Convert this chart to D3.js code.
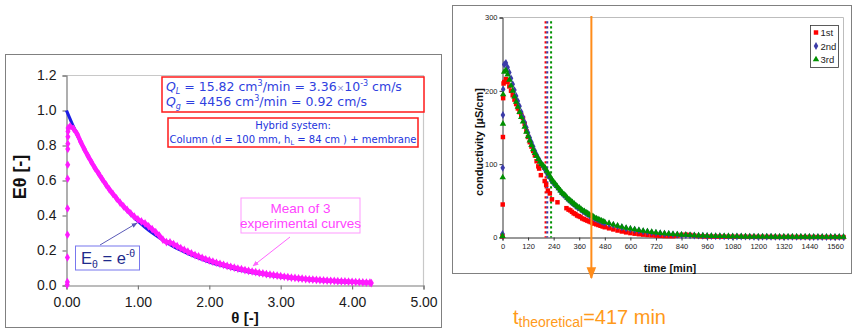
<!DOCTYPE html>
<html>
<head>
<meta charset="utf-8">
<script src="https://cdn.jsdelivr.net/npm/d3@7"></script>
<style>
  html, body { margin: 0; padding: 0; background: #ffffff; }
  svg { display: block; }
</style>
</head>
<body>
<svg id="chart" width="853" height="331"></svg>
<script>
// ---------- Left panel: dimensionless RTD, E(theta) ----------
const thetaTicks = [0, 1, 2, 3, 4, 5];
const eTicks = [0, 0.2, 0.4, 0.6, 0.8, 1.0, 1.2];

// Ideal CSTR response E = exp(-theta), tabulated
const thetaModel = [0, 0.1, 0.2, 0.3, 0.4, 0.5, 0.6, 0.7, 0.8, 0.9, 1.0, 1.1, 1.2, 1.3, 1.4, 1.5, 1.6, 1.7, 1.8, 1.9, 2.0, 2.1, 2.2, 2.3, 2.4, 2.5, 2.6, 2.7, 2.8, 2.9, 3.0, 3.1, 3.2, 3.3, 3.4, 3.5, 3.6, 3.7, 3.8, 3.9, 4.0, 4.1, 4.2];
const eModel = [1.000, 0.905, 0.819, 0.741, 0.670, 0.607, 0.549, 0.497, 0.449, 0.407, 0.368, 0.333, 0.301, 0.273, 0.247, 0.223, 0.202, 0.183, 0.165, 0.150, 0.135, 0.122, 0.111, 0.100, 0.091, 0.082, 0.074, 0.067, 0.061, 0.055, 0.050, 0.045, 0.041, 0.037, 0.033, 0.030, 0.027, 0.025, 0.022, 0.020, 0.018, 0.017, 0.015];

// Mean of three experimental curves: initial rise, then the decay
const thetaRise = [0.010, 0.012, 0.013, 0.014, 0.015, 0.016, 0.017, 0.018, 0.019, 0.020, 0.021, 0.022];
const eRise = [0.005, 0.02, 0.16, 0.29, 0.44, 0.61, 0.69, 0.78, 0.81, 0.85, 0.88, 0.90];
const thetaExp = [0.05, 0.10, 0.15, 0.20, 0.25, 0.30, 0.35, 0.40, 0.45, 0.50, 0.55, 0.60, 0.65, 0.70, 0.75, 0.80, 0.85, 0.90, 0.95, 1.00, 1.05, 1.10, 1.15, 1.20, 1.25, 1.30, 1.35, 1.40, 1.45, 1.50, 1.55, 1.60, 1.65, 1.70, 1.75, 1.80, 1.85, 1.90, 1.95, 2.00, 2.05, 2.10, 2.15, 2.20, 2.25, 2.30, 2.35, 2.40, 2.45, 2.50, 2.55, 2.60, 2.65, 2.70, 2.75, 2.80, 2.85, 2.90, 2.95, 3.00, 3.05, 3.10, 3.15, 3.20, 3.25, 3.30, 3.35, 3.40, 3.45, 3.50, 3.55, 3.60, 3.65, 3.70, 3.75, 3.80, 3.85, 3.90, 3.95, 4.00, 4.05, 4.10, 4.15, 4.20, 4.25, 4.27];
const eExp = [0.910, 0.895, 0.865, 0.820, 0.779, 0.741, 0.705, 0.670, 0.640, 0.608, 0.578, 0.549, 0.523, 0.498, 0.474, 0.452, 0.432, 0.412, 0.393, 0.378, 0.366, 0.355, 0.338, 0.322, 0.305, 0.285, 0.262, 0.248, 0.246, 0.236, 0.225, 0.213, 0.203, 0.193, 0.183, 0.174, 0.166, 0.158, 0.150, 0.143, 0.136, 0.130, 0.124, 0.118, 0.112, 0.107, 0.102, 0.097, 0.093, 0.088, 0.084, 0.080, 0.076, 0.072, 0.069, 0.065, 0.062, 0.059, 0.056, 0.053, 0.050, 0.048, 0.045, 0.043, 0.041, 0.039, 0.037, 0.035, 0.034, 0.032, 0.031, 0.029, 0.028, 0.027, 0.026, 0.025, 0.024, 0.023, 0.022, 0.021, 0.020, 0.019, 0.018, 0.017, 0.016, 0.014];

// ---------- Right panel: conductivity vs time, three runs ----------
const timeTicks = [0, 120, 240, 360, 480, 600, 720, 840, 960, 1080, 1200, 1320, 1440, 1560];
const condTicks = [0, 100, 200, 300];
const runNames = ["1st", "2nd", "3rd"];
const meanTimes = [202, 210, 228];   // mean residence time of each run [min]
const tTheoretical = 417;            // theoretical residence time [min]

const timeRun1 = [0, 1, 2, 3, 5, 8, 16, 24, 32, 40, 48, 56, 64, 72, 80, 88, 96, 104, 112, 120, 128, 136, 144, 152, 160, 168, 172, 180, 198, 205, 213, 222, 232, 258, 300, 310, 318, 326, 334, 342, 350, 358, 366, 374, 382, 390, 398, 406, 414, 422, 430, 440, 450, 460, 470, 480, 500, 520, 540, 560, 580, 600, 620, 640, 660, 680, 700, 720, 740, 760, 780, 800, 820, 840, 860, 880, 900, 920, 940, 960, 980, 1000, 1020, 1040, 1060, 1080, 1100, 1120, 1140, 1160, 1180, 1200, 1220, 1240, 1260, 1280, 1300, 1320, 1340, 1360, 1380, 1400, 1420, 1440, 1460, 1480, 1500, 1520, 1540, 1560, 1580, 1600];
const condRun1 = [2, 45, 137, 190, 210, 212, 216, 212, 206, 200, 194, 188, 182, 176, 171, 167, 163, 155, 145, 137, 130, 124, 118, 112, 104, 97, 94, 85, 77, 72, 64, 60, 52, 48, 40, 38, 37, 35, 33, 32, 30, 29, 28, 26, 25, 24, 23, 22, 21, 20, 19, 18, 17, 16, 15, 14, 12.5, 11, 9.5, 8.2, 7, 6, 5.2, 4.5, 3.9, 3.4, 3.0, 2.6, 2.3, 2.0, 1.9, 1.8, 2.5, 3.5, 3.8, 3.5, 2.5, 1.8, 1.5, 1.4, 1.3, 1.2, 1.2, 1.1, 1.1, 1.0, 1.0, 1.0, 0.9, 0.9, 0.9, 0.8, 0.8, 0.8, 0.8, 0.7, 0.7, 0.7, 0.7, 0.7, 0.6, 0.6, 0.6, 0.6, 0.6, 0.6, 0.5, 0.5, 0.5, 0.5, 0.5, 0.5];

const timeRuns23 = [0, 1, 2, 3, 8, 16, 24, 32, 40, 48, 56, 64, 72, 80, 88, 96, 104, 112, 120, 128, 136, 144, 152, 160, 168, 176, 184, 192, 200, 208, 216, 224, 232, 240, 248, 256, 264, 272, 280, 288, 296, 304, 312, 320, 328, 336, 344, 352, 360, 368, 376, 384, 392, 400, 408, 416, 424, 432, 440, 448, 456, 464, 472, 480, 500, 520, 540, 560, 580, 600, 620, 640, 660, 680, 700, 720, 740, 760, 780, 800, 820, 840, 860, 880, 900, 920, 940, 960, 980, 1000, 1020, 1040, 1060, 1080, 1100, 1120, 1140, 1160, 1180, 1200, 1220, 1240, 1260, 1280, 1300, 1320, 1340, 1360, 1380, 1400, 1420, 1440, 1460, 1480, 1500, 1520, 1540, 1560, 1580, 1600];
const condRun2 = [5, 95, 167, 202, 236, 238, 232, 225, 217, 209, 201, 193, 186, 179, 171, 164, 157, 150, 143, 136, 130, 124, 118, 113, 108, 104, 100, 96, 92, 88, 84, 81, 77, 74, 72, 69, 66, 63, 60, 58, 56, 53, 51, 49, 47, 45, 43, 41, 40, 38, 36, 35, 33, 32, 30, 29, 28, 26, 25, 24, 23, 22, 21, 20, 18.5, 17, 15.5, 14, 12.5, 11.5, 10.5, 9.5, 8.6, 7.8, 7.0, 6.3, 5.7, 5.2, 4.7, 4.3, 3.9, 3.5, 3.2, 2.9, 2.7, 2.5, 2.3, 2.1, 1.9, 1.8, 1.7, 1.6, 1.5, 1.4, 1.3, 1.3, 1.2, 1.2, 1.1, 1.1, 1.0, 1.0, 1.0, 0.9, 0.9, 0.9, 0.9, 0.8, 0.8, 0.8, 0.8, 0.8, 0.7, 0.7, 0.7, 0.7, 0.7, 0.7, 0.7, 0.7];
const condRun3 = [2, 82, 155, 195, 226, 228, 222, 215, 207, 200, 192, 185, 178, 171, 164, 158, 151, 144, 138, 132, 126, 120, 115, 111, 107, 103, 100, 98, 95, 91, 87, 83, 79, 76, 73, 70, 67, 64, 61, 59, 57, 54, 52, 50, 48, 46, 44, 42, 41, 39, 37, 36, 34, 33, 31, 30, 29, 27, 26, 25, 24, 23, 22, 21, 19.5, 17.5, 16, 14.5, 13, 12, 11, 10, 9, 8.2, 7.4, 6.7, 6.0, 5.5, 5.0, 4.5, 4.1, 3.7, 3.4, 3.1, 2.8, 2.6, 2.4, 2.2, 2.0, 1.9, 1.8, 1.7, 1.6, 1.5, 1.4, 1.3, 1.3, 1.2, 1.2, 1.1, 1.1, 1.1, 1.0, 1.0, 1.0, 1.0, 0.9, 0.9, 0.9, 0.9, 0.9, 0.9, 0.8, 0.8, 0.8, 0.8, 0.8, 0.8, 0.8, 0.8];

const svg = d3.select("#chart");
const sans = "Arial, 'Liberation Sans', sans-serif";
const verdana = "Verdana, 'DejaVu Sans', sans-serif";

// ================= LEFT PANEL =================
svg.append("rect").attr("x", 5.5).attr("y", 54.5).attr("width", 436).attr("height", 273)
  .attr("fill", "#fff").attr("stroke", "#808080").attr("stroke-width", 1);

const xL = d3.scaleLinear().domain([0, 5]).range([66.5, 423.5]);
const yL = d3.scaleLinear().domain([0, 1.2]).range([285.5, 75.5]);

const left = svg.append("g");
// plot-area outline (top and right in light grey)
left.append("path")
  .attr("d", `M${xL(0)},${yL(1.2)}H${xL(5)}V${yL(0)}`)
  .attr("fill", "none").attr("stroke", "#c8c8c8").attr("stroke-width", 1.2);

const axL = left.append("g").attr("transform", `translate(0,${yL(0)})`)
  .call(d3.axisBottom(xL).tickValues(thetaTicks).tickFormat(d3.format(".2f")).tickSizeOuter(0).tickSize(4).tickPadding(8));
const ayL = left.append("g").attr("transform", `translate(${xL(0)},0)`)
  .call(d3.axisLeft(yL).tickValues(eTicks).tickFormat(d3.format(".1f")).tickSizeOuter(0).tickSize(4).tickPadding(6));
[axL, ayL].forEach(a => {
  a.select(".domain").attr("stroke", "#7a7a7a").attr("stroke-width", 1.2);
  a.selectAll(".tick line").attr("stroke", "#7a7a7a").attr("stroke-width", 1.2);
  a.selectAll(".tick text").attr("font-family", sans).attr("font-size", 14).attr("fill", "#1a1a1a");
});

// axis titles
left.append("text").attr("x", 245).attr("y", 323).attr("text-anchor", "middle")
  .attr("font-family", sans).attr("font-size", 15).attr("font-weight", "bold").attr("fill", "#111")
  .text("θ [-]");
left.append("text").attr("transform", "translate(26,177) rotate(-90)").attr("text-anchor", "middle")
  .attr("font-family", sans).attr("font-size", 18).attr("font-weight", "bold").attr("fill", "#111")
  .text("Eθ [-]");

// model curve
const modelPts = thetaModel.map((t, i) => [t, eModel[i]]);
left.append("path").datum(modelPts)
  .attr("d", d3.line().x(d => xL(d[0])).y(d => yL(d[1])).curve(d3.curveMonotoneX))
  .attr("fill", "none").attr("stroke", "#1c1ce6").attr("stroke-width", 3.2);

// experimental mean
const expPts = thetaExp.map((t, i) => [t, eExp[i]]);
const risePts = thetaRise.map((t, i) => [t, eRise[i]]);
const magenta = "#ff1aff";
left.append("path").datum(expPts)
  .attr("d", d3.line().x(d => xL(d[0])).y(d => yL(d[1])).curve(d3.curveMonotoneX))
  .attr("fill", "none").attr("stroke", magenta).attr("stroke-width", 4.4);
const diamond = d3.symbol().type(d3.symbolDiamond).size(22);
left.append("g").selectAll("path").data(expPts.concat(risePts)).join("path")
  .attr("transform", d => `translate(${xL(d[0])},${yL(d[1])})`)
  .attr("d", diamond).attr("fill", magenta);

// parameter box
const blueTxt = "#2f3fe0";
const box1 = left.append("g");
box1.append("rect").attr("x", 162).attr("y", 77).attr("width", 262).attr("height", 35)
  .attr("fill", "#fff").attr("stroke", "#ff1a1a").attr("stroke-width", 1.5);
const l1 = box1.append("text").attr("x", 166).attr("y", 91).attr("font-family", verdana).attr("font-size", 12.5).attr("fill", blueTxt);
l1.append("tspan").attr("font-style", "italic").text("Q");
l1.append("tspan").attr("font-style", "italic").attr("font-size", 8).attr("dy", 3).text("L");
l1.append("tspan").attr("dy", -3).text(" = 15.82 cm");
l1.append("tspan").attr("font-size", 8).attr("dy", -5).text("3");
l1.append("tspan").attr("dy", 5).text("/min = 3.36");
l1.append("tspan").attr("font-size", 9).attr("fill", "#8a8ad8").text("×");
l1.append("tspan").text("10");
l1.append("tspan").attr("font-size", 8).attr("dy", -5).text("-3");
l1.append("tspan").attr("dy", 5).text(" cm/s");
const l2 = box1.append("text").attr("x", 166).attr("y", 106).attr("font-family", verdana).attr("font-size", 12.5).attr("fill", blueTxt);
l2.append("tspan").attr("font-style", "italic").text("Q");
l2.append("tspan").attr("font-style", "italic").attr("font-size", 8).attr("dy", 3).text("g");
l2.append("tspan").attr("dy", -3).text(" = 4456 cm");
l2.append("tspan").attr("font-size", 8).attr("dy", -5).text("3");
l2.append("tspan").attr("dy", 5).text("/min = 0.92 cm/s");

// system box
const box2 = left.append("g");
box2.append("rect").attr("x", 168).attr("y", 118).attr("width", 250).attr("height", 29)
  .attr("fill", "#fff").attr("stroke", "#ff1a1a").attr("stroke-width", 1.5);
box2.append("text").attr("x", 293).attr("y", 128.5).attr("text-anchor", "middle")
  .attr("font-family", verdana).attr("font-size", 10).attr("fill", "#2233dd").text("Hybrid system:");
const s2 = box2.append("text").attr("x", 293).attr("y", 143).attr("text-anchor", "middle")
  .attr("font-family", verdana).attr("font-size", 10).attr("fill", "#2233dd");
s2.append("tspan").text("Column (d = 100 mm, h");
s2.append("tspan").attr("font-size", 6.5).attr("dy", 2).text("L");
s2.append("tspan").attr("dy", -2).text(" = 84 cm ) + membrane");

// arrows
const defs = svg.append("defs");
function arrowMarker(id, color) {
  defs.append("marker").attr("id", id).attr("viewBox", "0 0 10 10").attr("refX", 9).attr("refY", 5)
    .attr("markerWidth", 6).attr("markerHeight", 6).attr("orient", "auto")
    .append("path").attr("d", "M0,1L10,5L0,9Z").attr("fill", color);
}
arrowMarker("arrBlue", "#5a5ab8");
arrowMarker("arrPink", "#ff66ff");
arrowMarker("arrOrange", "#ff8c1a");

// model label
left.append("line").attr("x1", 100).attr("y1", 245).attr("x2", 137).attr("y2", 223)
  .attr("stroke", "#5a5ab8").attr("stroke-width", 1).attr("marker-end", "url(#arrBlue)");
left.append("rect").attr("x", 75.5).attr("y", 246).attr("width", 64).attr("height", 24)
  .attr("fill", "#fff").attr("stroke", "#7777ee").attr("stroke-width", 1);
const eq = left.append("text").attr("x", 81).attr("y", 264).attr("font-family", sans).attr("font-size", 16.5).attr("fill", "#1e2a8c");
eq.append("tspan").text("E");
eq.append("tspan").attr("font-size", 10.5).attr("dy", 4).text("θ");
eq.append("tspan").attr("dy", -4).text(" = e");
eq.append("tspan").attr("font-size", 10.5).attr("dy", -7).text("-θ");

// experimental label
left.append("line").attr("x1", 290).attr("y1", 237).attr("x2", 253).attr("y2", 266)
  .attr("stroke", "#ff66ff").attr("stroke-width", 1).attr("marker-end", "url(#arrPink)");
left.append("rect").attr("x", 241).attr("y", 198).attr("width", 119).attr("height", 35)
  .attr("fill", "#fff").attr("stroke", "#ff99ff").attr("stroke-width", 1);
left.append("text").attr("x", 300.5).attr("y", 213).attr("text-anchor", "middle")
  .attr("font-family", sans).attr("font-size", 13.5).attr("fill", "#ff44ff").text("Mean of 3");
left.append("text").attr("x", 300.5).attr("y", 228).attr("text-anchor", "middle")
  .attr("font-family", sans).attr("font-size", 13.5).attr("fill", "#ff44ff").text("experimental curves");

// ================= RIGHT PANEL =================
svg.append("rect").attr("x", 452.5).attr("y", 5.5).attr("width", 399).attr("height", 268)
  .attr("fill", "#fff").attr("stroke", "#808080").attr("stroke-width", 1);

const xR = d3.scaleLinear().domain([0, 1600]).range([502.5, 843.5]);
const yR = d3.scaleLinear().domain([0, 300]).range([237.5, 17.5]);
const right = svg.append("g");

right.append("path")
  .attr("d", `M${xR(0)},${yR(300)}H${xR(1600)}V${yR(0)}`)
  .attr("fill", "none").attr("stroke", "#bdbdbd").attr("stroke-width", 1);

const axR = right.append("g").attr("transform", `translate(0,${yR(0)})`)
  .call(d3.axisBottom(xR).tickValues(timeTicks).tickFormat(d3.format("d")).tickSizeOuter(0).tickSize(3).tickPadding(3));
const ayR = right.append("g").attr("transform", `translate(${xR(0)},0)`)
  .call(d3.axisLeft(yR).tickValues(condTicks).tickFormat(d3.format("d")).tickSizeOuter(0).tickSize(3).tickPadding(2));
[axR, ayR].forEach(a => {
  a.select(".domain").attr("stroke", "#333").attr("stroke-width", 1);
  a.selectAll(".tick line").attr("stroke", "#333");
  a.selectAll(".tick text").attr("font-family", sans).attr("font-size", 7.5).attr("fill", "#222");
});

right.append("text").attr("x", 670).attr("y", 271.5).attr("text-anchor", "middle")
  .attr("font-family", sans).attr("font-size", 11).attr("font-weight", "bold").attr("fill", "#111")
  .text("time [min]");
right.append("text").attr("transform", "translate(483,142) rotate(-90)").attr("text-anchor", "middle")
  .attr("font-family", sans).attr("font-size", 11).attr("font-weight", "bold").attr("fill", "#111")
  .text("conductivity [µS/cm]");

const runColors = ["#ff0000", "#3b3ba8", "#009000"];
const runSymbols = [d3.symbolSquare, d3.symbolDiamond, d3.symbolTriangle];
const runSizes = [20, 18, 18];
const runs = [
  timeRun1.map((t, i) => [t, condRun1[i]]),
  timeRuns23.map((t, i) => [t, condRun2[i]]),
  timeRuns23.map((t, i) => [t, condRun3[i]])
];

// dotted mean-residence-time markers
meanTimes.forEach((t, i) => {
  right.append("line")
    .attr("x1", xR(t)).attr("x2", xR(t)).attr("y1", yR(295)).attr("y2", yR(0))
    .attr("stroke", runColors[i]).attr("stroke-width", 2).attr("stroke-dasharray", "2.4,2.6");
});

runs.forEach((pts, i) => {
  const sym = d3.symbol().type(runSymbols[i]).size(runSizes[i]);
  right.append("g").selectAll("path").data(pts).join("path")
    .attr("transform", d => `translate(${xR(d[0])},${yR(d[1])})`)
    .attr("d", sym).attr("fill", runColors[i]);
});

// theoretical residence time
right.append("line").attr("x1", xR(tTheoretical)).attr("x2", xR(tTheoretical))
  .attr("y1", 16).attr("y2", 278)
  .attr("stroke", "#ff8c1a").attr("stroke-width", 2).attr("marker-end", "url(#arrOrange)");

// legend
const lg = right.append("g");
lg.append("rect").attr("x", 810.5).attr("y", 25.5).attr("width", 28).attr("height", 42)
  .attr("fill", "#fff").attr("stroke", "#333").attr("stroke-width", 0.8);
runNames.forEach((name, i) => {
  const y = 32.5 + i * 13.5;
  lg.append("path").attr("transform", `translate(816,${y})`)
    .attr("d", d3.symbol().type(runSymbols[i]).size(runSizes[i])).attr("fill", runColors[i]);
  lg.append("text").attr("x", 820.5).attr("y", y + 3.5)
    .attr("font-family", sans).attr("font-size", 9.5).attr("fill", "#222").text(name);
});

// theoretical time caption
const cap = svg.append("text").attr("x", 513).attr("y", 324)
  .attr("font-family", sans).attr("font-size", 20).attr("fill", "#ff9a1a");
cap.append("tspan").text("t");
cap.append("tspan").attr("font-size", 14).attr("dy", 3).text("theoretical");
cap.append("tspan").attr("dy", -3).text("=" + tTheoretical + " min");
</script>
</body>
</html>
